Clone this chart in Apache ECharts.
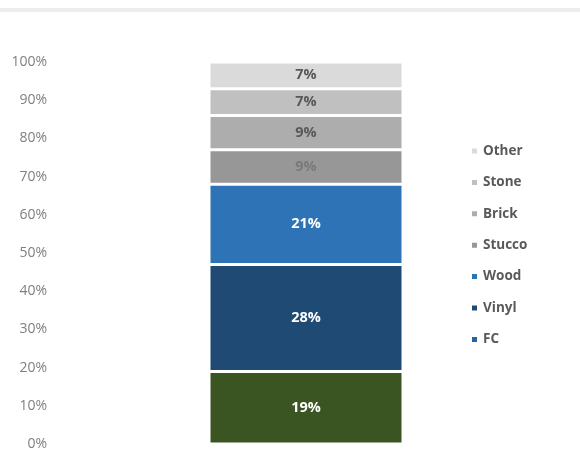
<!DOCTYPE html>
<html>
<head>
<meta charset="utf-8">
<script src="https://cdn.jsdelivr.net/npm/echarts@6/dist/echarts.min.js"></script>
<style>
  html, body { margin: 0; padding: 0; background: #ffffff; }
  #chart { width: 580px; height: 456px; }
</style>
</head>
<body>
<div id="chart"></div>
<script>
// Siding material share, stacked into a single 100% column
const categories = ['Share'];
const seriesNames = ['FC', 'Vinyl', 'Wood', 'Stucco', 'Brick', 'Stone', 'Other'];
const seriesValues = [19, 28, 21, 9, 9, 7, 7];
const tickLabels = ['0%', '10%', '20%', '30%', '40%', '50%', '60%', '70%', '80%', '90%', '100%'];

const barColors = ['#3a5522', '#1f4a74', '#2e73b5', '#979797', '#adadad', '#c0c0c0', '#dadada'];
const labelColors = ['#ffffff', '#ffffff', '#ffffff', '#7a7a7a', '#595959', '#595959', '#595959'];
const legendIconColors = ['#2a64a0', '#1f4a74', '#2e73b5', '#979797', '#adadad', '#c0c0c0', '#dadada'];

const chart = echarts.init(document.getElementById('chart'), null, { renderer: 'canvas' });

const series = seriesNames.map((name, i) => ({
  name: name,
  type: 'bar',
  stack: 'total',
  barWidth: 194,
  data: [seriesValues[i]],
  itemStyle: { color: barColors[i], borderColor: '#ffffff', borderWidth: 1.5 },
  label: {
    show: true,
    position: 'inside',
    formatter: p => p.value + '%',
    color: labelColors[i],
    fontFamily: 'Open Sans',
    fontWeight: 'bold',
    fontSize: 14.5
  },
  emphasis: { disabled: true }
}));

chart.setOption({
  animation: false,
  backgroundColor: '#ffffff',
  graphic: [{
    type: 'rect',
    shape: { x: 0, y: 8, width: 580, height: 4 },
    style: { fill: '#ececec' },
    silent: true
  }],
  grid: { left: 55, right: 23, top: 62, bottom: 12, containLabel: false },
  legend: {
    orient: 'vertical',
    left: 465,
    top: 139,
    itemWidth: 7,
    itemHeight: 7,
    itemGap: 17.4,
    icon: 'rect',
    textStyle: { color: '#595959', fontFamily: 'Open Sans', fontWeight: 'bold', fontSize: 13.5 },
    data: seriesNames.map((n, i) => ({ name: n, itemStyle: { color: legendIconColors[i] } })).reverse(),
    selectedMode: false
  },
  xAxis: {
    type: 'category',
    data: categories,
    axisLine: { show: false },
    axisTick: { show: false },
    axisLabel: { show: false }
  },
  yAxis: {
    type: 'value',
    min: 0,
    max: 100,
    interval: 10,
    axisLine: { show: false },
    axisTick: { show: false },
    splitLine: { show: false },
    axisLabel: {
      formatter: v => tickLabels[Math.round(v / 10)],
      color: '#808080',
      fontFamily: 'Open Sans',
      fontSize: 14,
      margin: 8
    }
  },
  series: series
});
</script>
</body>
</html>
